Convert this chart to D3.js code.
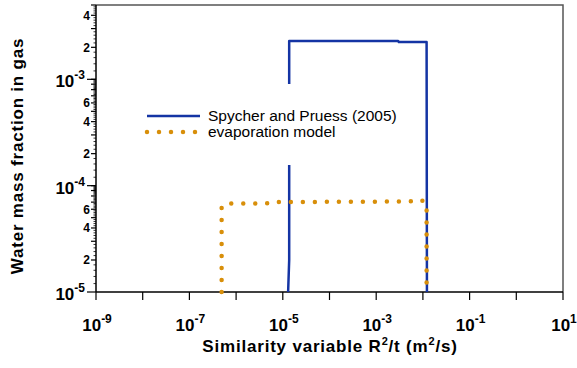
<!DOCTYPE html>
<html>
<head>
<meta charset="utf-8">
<script src="https://cdn.jsdelivr.net/npm/d3@7"></script>
<style>
  body { margin: 0; background: #fff; }
  text { font-family: "Liberation Sans", Arial, sans-serif; }
</style>
</head>
<body>
<script>
// data
const blueX = [1.30e-5, 1.37e-5, 1.37e-5, 2.95e-3, 3.05e-3, 1.20e-2, 1.22e-2];
const blueY = [1e-5, 2e-5, 2.29e-3, 2.29e-3, 2.24e-3, 2.24e-3, 1e-5];
const orangeX = [4.9e-7, 4.9e-7, 6.5e-7, 4.5e-6, 5.0e-6, 5.0e-3, 9.0e-3, 1.2e-2, 1.2e-2];
const orangeY = [1e-5, 6.4e-5, 6.8e-5, 6.8e-5, 7.0e-5, 7.1e-5, 7.4e-5, 6.8e-5, 1e-5];
const xTickExps = [-9, -8, -7, -6, -5, -4, -3, -2, -1, 0, 1];
const xLabelExps = [-9, -7, -5, -3, -1, 1];
const yMajorExps = [-5, -4, -3];
const yMinorLabels = [2, 4, 6];
const seriesNames = ["Spycher and Pruess (2005)", "evaporation model"];

const width = 577, height = 368;
const margin = { top: 5, right: 14, bottom: 76, left: 96 };
const w = width - margin.left - margin.right;
const h = height - margin.top - margin.bottom;

const svg = d3.select("body").append("svg")
  .attr("width", width).attr("height", height);
const g = svg.append("g")
  .attr("transform", "translate(" + margin.left + "," + margin.top + ")");

const x = d3.scaleLog().domain([1e-9, 1e1]).range([0, w]);
const y = d3.scaleLog().domain([1e-5, 5e-3]).range([h, 0]);

// frame (top, right)
g.append("path")
  .attr("d", "M0,0H" + w + "V" + h)
  .attr("fill", "none").attr("stroke", "#555").attr("stroke-width", 1.5);

// x axis
const xa = g.append("g").attr("transform", "translate(0," + h + ")");
xa.append("line").attr("x1", 0).attr("x2", w).attr("stroke", "#000").attr("stroke-width", 1.5);
xa.selectAll(".xt").data(xTickExps).enter().append("line")
  .attr("x1", d => x(Math.pow(10, d))).attr("x2", d => x(Math.pow(10, d)))
  .attr("y1", 0).attr("y2", 8).attr("stroke", "#000").attr("stroke-width", 1.2);
const xl = xa.selectAll(".xl").data(xLabelExps).enter().append("text")
  .attr("x", d => x(Math.pow(10, d)) + 1).attr("y", 39)
  .attr("text-anchor", "middle").attr("font-weight", "bold").attr("font-size", 17);
xl.append("tspan").text("10");
xl.append("tspan").attr("dy", -8).attr("font-size", 12).text(d => d);

// y axis
const ya = g.append("g");
ya.append("line").attr("y1", 0).attr("y2", h).attr("stroke", "#000").attr("stroke-width", 1.5);
const yTicks = [];
for (let e = -5; e <= -3; e++) {
  for (let m = 1; m < 10; m += 0.2) {
    const v = m * Math.pow(10, e);
    if (v > 5e-3 + 1e-12) continue;
    const mr = Math.round(m * 10) / 10;
    let len = 2.5;
    if (mr === 1) len = 9;
    else if (Number.isInteger(mr)) len = 5;
    yTicks.push({ v: v, len: len });
  }
}
ya.selectAll(".yt").data(yTicks).enter().append("line")
  .attr("x1", d => -d.len).attr("x2", 0)
  .attr("y1", d => y(d.v)).attr("y2", d => y(d.v))
  .attr("stroke", "#000").attr("stroke-width", d => d.len > 3 ? 1.2 : 0.8);
const yl = ya.selectAll(".yl").data(yMajorExps).enter().append("text")
  .attr("x", -11).attr("y", d => y(Math.pow(10, d)) + 8)
  .attr("text-anchor", "end").attr("font-weight", "bold").attr("font-size", 17);
yl.append("tspan").text("10");
yl.append("tspan").attr("dy", -8).attr("font-size", 12).text(d => d);
const minorVals = [];
yMajorExps.forEach(e => yMinorLabels.forEach(m => {
  const v = m * Math.pow(10, e);
  if (v <= 5e-3) minorVals.push({ m: m, v: v });
}));
ya.selectAll(".ym").data(minorVals).enter().append("text")
  .attr("x", -6).attr("y", d => y(d.v) + 4.5)
  .attr("text-anchor", "end").attr("font-weight", "bold").attr("font-size", 12)
  .text(d => d.m);

// titles
const xt = svg.append("text")
  .attr("x", 330).attr("y", 352)
  .attr("text-anchor", "middle").attr("font-weight", "bold").attr("font-size", 17)
  .attr("letter-spacing", 0.8);
xt.append("tspan").text("Similarity variable R");
xt.append("tspan").attr("dy", -7).attr("font-size", 11).text("2");
xt.append("tspan").attr("dy", 7).text("/t (m");
xt.append("tspan").attr("dy", -7).attr("font-size", 11).text("2");
xt.append("tspan").attr("dy", 7).text("/s)");
svg.append("text")
  .attr("transform", "translate(23,156) rotate(-90)")
  .attr("text-anchor", "middle").attr("font-weight", "bold").attr("font-size", 17)
  .attr("letter-spacing", 0.8)
  .text("Water mass fraction in gas");

// series
const line = d3.line().x(d => x(d[0])).y(d => y(d[1]));
g.append("path").datum(blueX.map((v, i) => [v, blueY[i]]))
  .attr("d", line).attr("fill", "none").attr("stroke", "#1434a4")
  .attr("stroke-width", 2.5).attr("stroke-linejoin", "round");
g.append("path").datum(orangeX.map((v, i) => [v, orangeY[i]]))
  .attr("d", line).attr("fill", "none").attr("stroke", "#d88f0a")
  .attr("stroke-width", 4.5).attr("stroke-linecap", "round")
  .attr("stroke-dasharray", "0 12");

// legend
const lg = svg.append("g").attr("transform", "translate(140,84)");
lg.append("rect").attr("width", 270).attr("height", 81).attr("fill", "#fff");
lg.append("line").attr("x1", 7).attr("x2", 60).attr("y1", 32).attr("y2", 32)
  .attr("stroke", "#1434a4").attr("stroke-width", 2.5);
lg.append("line").attr("x1", 7).attr("x2", 60).attr("y1", 48).attr("y2", 48)
  .attr("stroke", "#d88f0a").attr("stroke-width", 4.5).attr("stroke-linecap", "round")
  .attr("stroke-dasharray", "0 12");
lg.selectAll(".lt").data(seriesNames).enter().append("text")
  .attr("x", 68).attr("y", (d, i) => 37 + i * 16)
  .attr("font-size", 15.5).text(d => d);
</script>
</body>
</html>
